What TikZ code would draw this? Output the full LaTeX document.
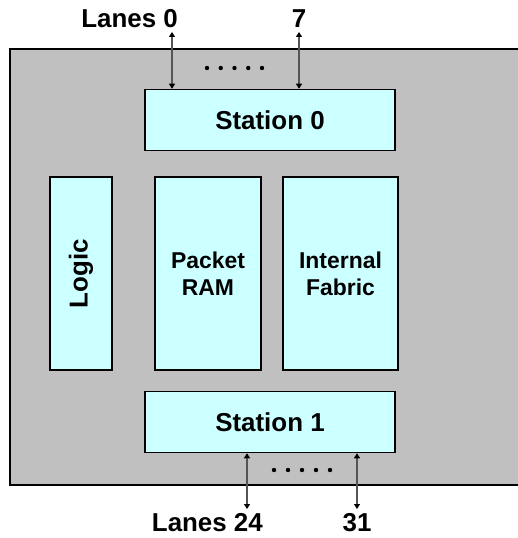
\documentclass[tikz,border=0pt]{standalone}
\usepackage{fontspec}
\setmainfont{Liberation Sans}
\usetikzlibrary{arrows.meta}

\definecolor{chipgray}{HTML}{C0C0C0}
\definecolor{boxcyan}{HTML}{CCFFFF}
\definecolor{lanegray}{HTML}{555555}

\tikzset{
    box/.style={draw=black, fill=boxcyan, line width=1.5bp, inner sep=0pt,
        font=\fontsize{23}{27}\selectfont\bfseries, align=center},
    stationbox/.style={box, minimum width=250bp, minimum height=61bp,
        font=\fontsize{26}{30}\selectfont\bfseries},
    lbl/.style={inner sep=0pt, font=\fontsize{26}{30}\selectfont\bfseries},
    lane/.style={lanegray, line width=1.2bp,
        {Triangle[width=6bp,length=5bp,color=black]}-{Triangle[width=6bp,length=5bp,color=black]}}
}

\begin{document}
\begin{tikzpicture}[x=1bp, y=-1bp]
    \useasboundingbox (0,0) rectangle (518,538);
    
    % Draw the chip outline
    \begin{scope}
        \clip (0,0) rectangle (518,538);
        \draw[fill=chipgray, line width=2.2bp] (10,49) rectangle (530,485);
    \end{scope}
    
    % Draw the blocks
    \node[stationbox] (st0) at (270,120) {Station 0};
    \node[stationbox] (st1) at (270,422) {Station 1};
    \node[box, minimum width=62bp, minimum height=193bp] (logic) at (81,273.5) {};
    \node[lbl, rotate=90] (logictxt) at (logic) {Logic};
    \node[box, minimum width=106bp, minimum height=193bp] (ram) at (208,273.5) {Packet\\RAM};
    \node[box, minimum width=115bp, minimum height=193bp] (fabric) at (340.5,273.5) {Internal\\Fabric};
    
    % Draw the lane labels
    \node[lbl, anchor=base east] (lanes0) at (178,28) {Lanes 0};
    \node[lbl, anchor=base] (lane7) at (299,28) {7};
    \node[lbl, anchor=base east] (lanes24) at (263,531) {Lanes 24};
    \node[lbl, anchor=base] (lane31) at (357,531) {31};
    
    % Draw the lanes
    \coordinate (a0) at (172,32);
    \coordinate (a7) at (299,32);
    \coordinate (a24) at (247,509);
    \coordinate (a31) at (357,509);
    \draw[lane] (a0) -- (a0 |- st0.north);
    \draw[lane] (a7) -- (a7 |- st0.north);
    \draw[lane] (st1.south -| a24) -- (a24);
    \draw[lane] (st1.south -| a31) -- (a31);
    
    % Draw the dots between lanes
    \foreach \i in {0,...,4} {
        \fill (207+13.75*\i,68) circle (2.2bp);
        \fill (274+14*\i,470) circle (2.2bp);
    }
\end{tikzpicture}
\end{document}
